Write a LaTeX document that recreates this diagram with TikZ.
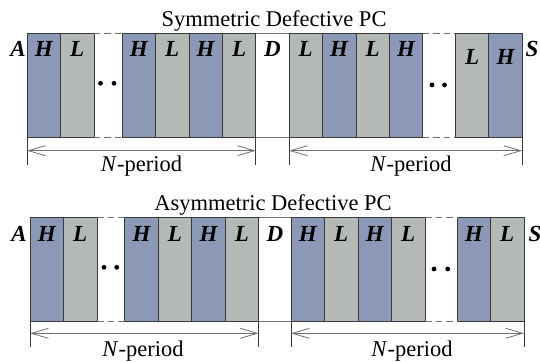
\documentclass[tikz,border=0pt]{standalone}
\usepackage{fontspec}
\setmainfont{Liberation Serif}
\usetikzlibrary{arrows.meta}
\definecolor{hcol}{HTML}{8C99B6}
\definecolor{lcol}{HTML}{B4B9B5}
\definecolor{edgec}{HTML}{3A3A3A}
\definecolor{dimc}{HTML}{707070}
\begin{document}
\begin{tikzpicture}[x=1pt,y=-1pt,
  lay/.style={draw=edgec, line width=0.8pt, minimum width=33.45pt, minimum height=104pt,
    inner sep=0pt, outer sep=0pt, anchor=north west},
  layH/.style={lay, fill=hcol},
  layL/.style={lay, fill=lcol},
  layD/.style={lay, draw=dimc, fill=white, minimum width=33.2pt},
  lab/.style={anchor=base, inner sep=0pt, font=\fontsize{23}{23}\selectfont\bfseries\itshape},
  ttl/.style={anchor=base, inner sep=0pt, font=\fontsize{22.5}{22.5}\selectfont},
  gapline/.style={draw=dimc, line width=0.8pt, dash pattern=on 6.5pt off 4pt},
  tick/.style={draw=edgec, line width=0.8pt},
  dim/.style={draw=dimc, line width=0.8pt,
    {Straight Barb[length=17pt,width=10pt,line width=0.8pt]}-{Straight Barb[length=17pt,width=10pt,line width=0.8pt]}},
  dotn/.style={circle, fill=black, inner sep=0pt, minimum size=4.8pt}
]
\useasboundingbox (0,0) rectangle (540,361);
\fill[white] (0,0) rectangle (540,361);

% ---------- Top: symmetric ----------
\node[ttl] (t1) at (274,26.7) {Symmetric Defective PC};
\node[layD] (aD) at (255.8,33.7) {};
\foreach \n/\x/\t/\dy in {1/27/H/23,2/60.45/L/23,3/122/H/23,4/155.45/L/23,5/188.9/H/23,6/222.35/L/23,
  7/289/L/23,8/322.45/H/23,9/355.9/L/23,10/389.35/H/23,11/455.3/L/30.5,12/488.75/H/30.5}{
  \node[lay\t] (a\n) at (\x,33.7) {};
  \node[lab] (ta\n) at ([yshift=-\dy pt]a\n.north) {\t};
}
\node[lab] (taD) at ([yshift=-23pt]aD.north) {D};
\node[lab] (tA) at (18,56.7) {A};
\node[lab] (tS) at (532,56.7) {S};
\draw[gapline] (a2.north east) -- (a3.north west);
\draw[gapline] (a2.south east) -- (a3.south west);
\draw[gapline] (a10.north east) -- (a11.north west);
\draw[gapline] (a10.south east) -- (a11.south west);
\node[dotn] (p1) at (100.5,83.3) {};
\node[dotn] (p2) at (114,83.3) {};
\node[dotn] (p3) at (432,85) {};
\node[dotn] (p4) at (444.5,85) {};
\coordinate (c1) at ([yshift=-27.3pt]a1.south west);
\coordinate (c2) at ([yshift=-27.3pt]a6.south east);
\coordinate (c3) at ([yshift=-27.3pt]a7.south west);
\coordinate (c4) at ([yshift=-27.3pt]a12.south east);
\draw[tick] (a1.south west) -- (c1);
\draw[tick] (a6.south east) -- (c2);
\draw[tick] (a7.south west) -- (c3);
\draw[tick] (a12.south east) -- (c4);
\draw[dim] ([yshift=-13pt]a1.south west) -- ([yshift=-13pt]a6.south east);
\draw[dim] ([yshift=-13pt]a7.south west) -- ([yshift=-13pt]a12.south east);
\node[ttl] (n1) at (141.5,171.7) {\textit{N}-period};
\node[ttl] (n2) at (411,171.7) {\textit{N}-period};

% ---------- Bottom: asymmetric ----------
\node[ttl] (t2) at (273,210) {Asymmetric Defective PC};
\node[layD, minimum width=32.3pt] (bD) at (258.7,217.7) {};
\foreach \n/\x/\t in {1/30/H,2/63.5/L,3/124.7/H,4/158.2/L,5/191.7/H,6/225.2/L,
  7/291/H,8/324.5/L,9/358/H,10/391.5/L,11/457/H,12/490.5/L}{
  \node[lay\t, minimum width=33.5pt] (b\n) at (\x,217.7) {};
  \node[lab] (tb\n) at ([yshift=-24pt]b\n.north) {\t};
}
\node[lab] (tbD) at ([yshift=-24pt]bD.north) {D};
\node[lab] (tA2) at (19,241.7) {A};
\node[lab] (tS2) at (535,241.7) {S};
\draw[gapline] (b2.north east) -- (b3.north west);
\draw[gapline] (b2.south east) -- (b3.south west);
\draw[gapline] (b10.north east) -- (b11.north west);
\draw[gapline] (b10.south east) -- (b11.south west);
\node[dotn] (q1) at (104,267.3) {};
\node[dotn] (q2) at (116.7,267.3) {};
\node[dotn] (q3) at (434,269) {};
\node[dotn] (q4) at (447.7,269) {};
\coordinate (e1) at ([yshift=-25.3pt]b1.south west);
\coordinate (e2) at ([yshift=-25.3pt]b6.south east);
\coordinate (e3) at ([yshift=-25.3pt]b7.south west);
\coordinate (e4) at ([yshift=-25.3pt]b12.south east);
\draw[tick] (b1.south west) -- (e1);
\draw[tick] (b6.south east) -- (e2);
\draw[tick] (b7.south west) -- (e3);
\draw[tick] (b12.south east) -- (e4);
\draw[dim] ([yshift=-11.6pt]b1.south west) -- ([yshift=-11.6pt]b6.south east);
\draw[dim] ([yshift=-11.6pt]b7.south west) -- ([yshift=-11.6pt]b12.south east);
\node[ttl] (n3) at (143,356.7) {\textit{N}-period};
\node[ttl] (n4) at (412,356.7) {\textit{N}-period};
\end{tikzpicture}
\end{document}
